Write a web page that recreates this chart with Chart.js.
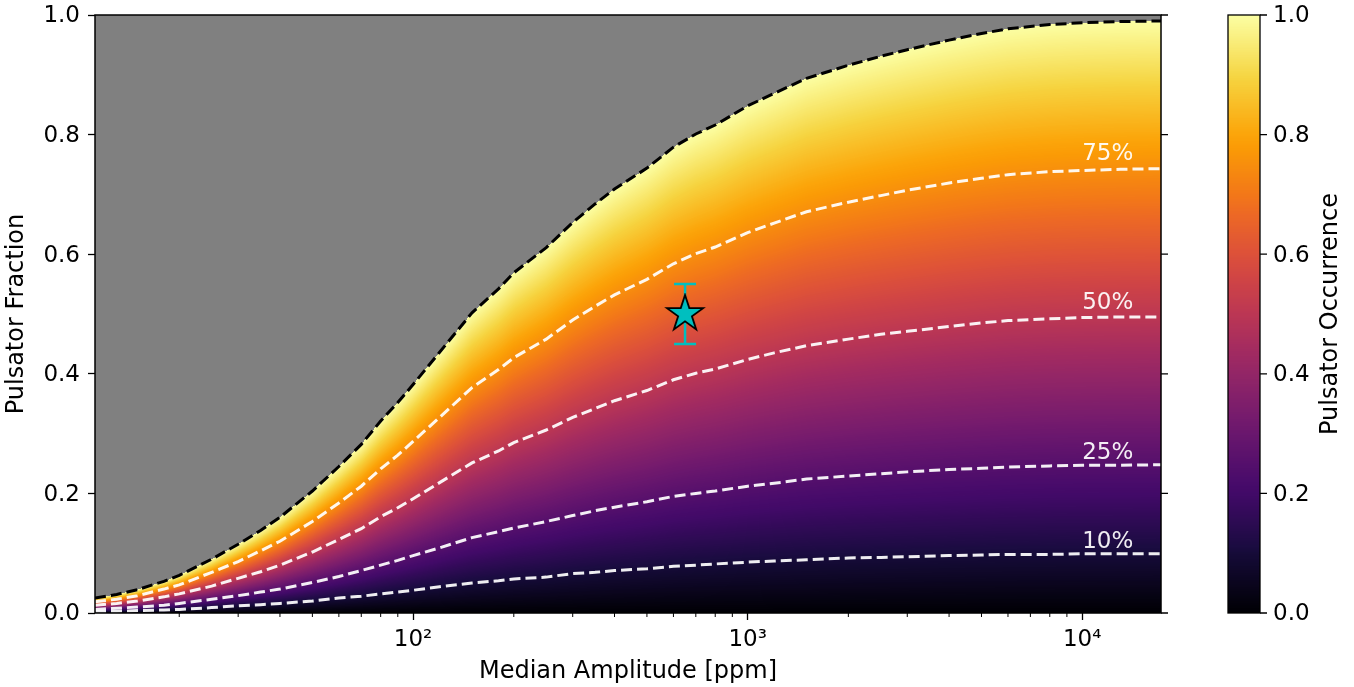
<!DOCTYPE html>
<html>
<head>
<meta charset="utf-8">
<title>Pulsator occurrence</title>
<style>
  html, body { margin: 0; padding: 0; background: #fff; }
  #occChart { display: block; }
</style>
</head>
<body>
<canvas id="occChart" width="1354" height="687"></canvas>
<script src="https://cdn.jsdelivr.net/npm/chart.js@4.4.1/dist/chart.umd.min.js"></script>
<script>
// amplitude grid (ppm) shared by all curves
const amplitude = [11.2, 13, 15, 18, 20, 25, 30, 35, 40, 50, 60, 70, 80, 90, 100, 120, 150, 180, 200, 250,
                   300, 350, 400, 500, 600, 700, 800, 1000, 1200, 1500, 2000, 2500, 3000, 4000, 5000, 6000,
                   8000, 10000, 13000, 17200];
// pulsator fraction where occurrence reaches 100%
const frac100 = [0.025, 0.031, 0.039, 0.053, 0.063, 0.090, 0.115, 0.138, 0.160, 0.204, 0.245, 0.282, 0.321, 0.352,
                 0.382, 0.436, 0.502, 0.542, 0.569, 0.611, 0.653, 0.684, 0.709, 0.744, 0.779, 0.801, 0.816, 0.848,
                 0.869, 0.894, 0.916, 0.931, 0.942, 0.958, 0.969, 0.977, 0.984, 0.987, 0.989, 0.990];
const frac75 = [0.019, 0.023, 0.029, 0.040, 0.047, 0.068, 0.086, 0.104, 0.120, 0.153, 0.184, 0.212, 0.241, 0.264,
                0.287, 0.327, 0.377, 0.407, 0.427, 0.458, 0.490, 0.513, 0.532, 0.558, 0.584, 0.601, 0.612, 0.636,
                0.652, 0.671, 0.687, 0.698, 0.707, 0.719, 0.727, 0.733, 0.738, 0.740, 0.742, 0.743];
const frac50 = [0.013, 0.016, 0.020, 0.027, 0.032, 0.045, 0.058, 0.069, 0.080, 0.102, 0.123, 0.141, 0.161, 0.176,
                0.191, 0.218, 0.251, 0.271, 0.285, 0.306, 0.327, 0.342, 0.355, 0.372, 0.390, 0.401, 0.408, 0.424,
                0.435, 0.447, 0.458, 0.466, 0.471, 0.479, 0.485, 0.489, 0.492, 0.494, 0.495, 0.495];
const frac25 = [0.006, 0.008, 0.010, 0.013, 0.016, 0.023, 0.029, 0.035, 0.040, 0.051, 0.061, 0.071, 0.080, 0.088,
                0.096, 0.109, 0.126, 0.136, 0.142, 0.153, 0.163, 0.171, 0.177, 0.186, 0.195, 0.200, 0.204, 0.212,
                0.217, 0.224, 0.229, 0.233, 0.236, 0.240, 0.242, 0.244, 0.246, 0.247, 0.247, 0.248];
const frac10 = [0.003, 0.003, 0.004, 0.005, 0.006, 0.009, 0.012, 0.014, 0.016, 0.020, 0.025, 0.028, 0.032, 0.035,
                0.038, 0.044, 0.050, 0.054, 0.057, 0.060, 0.066, 0.068, 0.071, 0.074, 0.078, 0.080, 0.082, 0.085,
                0.087, 0.089, 0.092, 0.093, 0.094, 0.096, 0.097, 0.098, 0.098, 0.099, 0.099, 0.099];

const levelNames = ['10%', '25%', '50%', '75%'];
const levelValues = [0.10, 0.25, 0.50, 0.75];
const levelLabelAmp = 10000;

// measured point with its error
const starAmp = [650];
const starFrac = [0.50];
const starErr = [0.05];

const xTickValues = [20, 30, 40, 50, 60, 70, 80, 90, 100, 200, 300, 400, 500, 600, 700, 800, 900,
                     1000, 2000, 3000, 4000, 5000, 6000, 7000, 8000, 9000, 10000];
const cbarTicks = [0.0, 0.2, 0.4, 0.6, 0.8, 1.0];

// inferno colormap
const inferno = [
  [0.000, '#000004'], [0.100, '#160b39'], [0.111, '#1b0c41'], [0.200, '#420a68'], [0.222, '#4a0c6b'],
  [0.300, '#6a176e'], [0.333, '#781c6d'], [0.400, '#932667'], [0.444, '#a52c60'], [0.500, '#bc3754'],
  [0.556, '#cf4446'], [0.600, '#dd513a'], [0.667, '#ed6925'], [0.700, '#f37819'], [0.778, '#fb9b06'],
  [0.800, '#fca50a'], [0.889, '#f7d13d'], [0.900, '#f6d746'], [1.000, '#fcffa4']
];

const FONT = "'DejaVu Sans', sans-serif";
const CYAN = '#00bfbf';
const LINE_WHITE = 'rgba(255,255,255,0.93)';

Chart.defaults.font.family = FONT;
Chart.defaults.font.size = 23;
Chart.defaults.color = '#000';

// vertical colour strip: top = 1, bottom = 0
const strip = document.createElement('canvas');
strip.width = 1;
strip.height = 512;
(function () {
  const g = strip.getContext('2d');
  const grad = g.createLinearGradient(0, strip.height, 0, 0);
  inferno.forEach(([t, c]) => grad.addColorStop(t, c));
  g.fillStyle = grad;
  g.fillRect(0, 0, 1, strip.height);
})();

function makeStar(outer, fill) {
  const s = Math.ceil(outer * 2 + 4);
  const c = document.createElement('canvas');
  c.width = c.height = s;
  const g = c.getContext('2d');
  const inner = outer * 0.382;
  g.beginPath();
  for (let k = 0; k < 10; k++) {
    const r = k % 2 ? inner : outer;
    const ang = -Math.PI / 2 + k * Math.PI / 5;
    g.lineTo(s / 2 + r * Math.cos(ang), s / 2 + r * Math.sin(ang));
  }
  g.closePath();
  g.fillStyle = fill;
  g.fill();
  g.lineWidth = 1.8;
  g.lineJoin = 'miter';
  g.strokeStyle = '#000';
  g.stroke();
  return c;
}

// 100% boundary at any amplitude, interpolated in log amplitude
function boundaryAt(amp) {
  const la = Math.log10(amp);
  if (amp <= amplitude[0]) return frac100[0];
  for (let i = 1; i < amplitude.length; i++) {
    if (amp <= amplitude[i]) {
      const l0 = Math.log10(amplitude[i - 1]), l1 = Math.log10(amplitude[i]);
      const t = (la - l0) / (l1 - l0);
      return frac100[i - 1] + t * (frac100[i] - frac100[i - 1]);
    }
  }
  return frac100[frac100.length - 1];
}

function isDecade(v) {
  const l = Math.log10(v);
  return Math.abs(l - Math.round(l)) < 1e-9;
}
const SUP = { 1: '\u00b9', 2: '\u00b2', 3: '\u00b3', 4: '\u2074' };

function series(ys) {
  return amplitude.map((a, i) => ({ x: a, y: ys[i] }));
}

function contour(ys, color) {
  return {
    type: 'line',
    data: series(ys),
    borderColor: color,
    borderWidth: 3,
    borderDash: [11, 5],
    pointRadius: 0,
    tension: 0,
    fill: false,
    order: 1
  };
}

const occupancyMap = {
  id: 'occupancyMap',
  beforeDatasetsDraw(chart) {
    const { ctx, chartArea: a, scales: { x, y } } = chart;
    ctx.save();
    ctx.beginPath();
    ctx.rect(a.left, a.top, a.right - a.left, a.bottom - a.top);
    ctx.clip();
    ctx.fillStyle = '#808080';
    ctx.fillRect(a.left, a.top, a.right - a.left, a.bottom - a.top);
    const y0 = y.getPixelForValue(0);
    for (let px = Math.floor(a.left); px < a.right; px++) {
      const top = y.getPixelForValue(boundaryAt(x.getValueForPixel(px + 0.5)));
      ctx.drawImage(strip, 0, 0, 1, strip.height, px, top, 1, y0 - top);
    }
    // error bar under the star marker
    ctx.strokeStyle = CYAN;
    ctx.lineWidth = 2.5;
    for (let i = 0; i < starAmp.length; i++) {
      const sx = x.getPixelForValue(starAmp[i]);
      const hi = y.getPixelForValue(starFrac[i] + starErr[i]);
      const lo = y.getPixelForValue(starFrac[i] - starErr[i]);
      ctx.beginPath();
      ctx.moveTo(sx, hi); ctx.lineTo(sx, lo);
      ctx.moveTo(sx - 11, hi); ctx.lineTo(sx + 11, hi);
      ctx.moveTo(sx - 11, lo); ctx.lineTo(sx + 11, lo);
      ctx.stroke();
    }
    ctx.restore();
  },
  afterDatasetsDraw(chart) {
    const { ctx, scales: { x, y } } = chart;
    ctx.save();
    ctx.font = '23px ' + FONT;
    ctx.fillStyle = LINE_WHITE;
    ctx.textAlign = 'left';
    ctx.textBaseline = 'alphabetic';
    levelNames.forEach((name, i) => {
      ctx.fillText(name, x.getPixelForValue(levelLabelAmp), y.getPixelForValue(levelValues[i] + 0.008));
    });
    ctx.restore();
  },
  afterDraw(chart) {
    const { ctx, chartArea: a, scales: { x, y } } = chart;
    ctx.save();
    // frame
    ctx.strokeStyle = '#000';
    ctx.lineWidth = 1.5;
    ctx.strokeRect(a.left, a.top, a.right - a.left, a.bottom - a.top);
    // right-hand ticks
    ctx.lineWidth = 1.3;
    ctx.beginPath();
    y.ticks.forEach(t => {
      const py = y.getPixelForValue(t.value);
      ctx.moveTo(a.right, py); ctx.lineTo(a.right + 7, py);
    });
    ctx.stroke();
    // minor ticks on the log axis
    ctx.lineWidth = 1;
    ctx.beginPath();
    x.ticks.forEach(t => {
      if (isDecade(t.value)) return;
      const px = x.getPixelForValue(t.value);
      ctx.moveTo(px, a.bottom); ctx.lineTo(px, a.bottom + 4);
    });
    ctx.stroke();

    // colorbar
    const cbL = 1228, cbW = 32, cbT = a.top, cbH = a.bottom - a.top;
    ctx.imageSmoothingEnabled = true;
    ctx.drawImage(strip, 0, 0, 1, strip.height, cbL, cbT, cbW, cbH);
    ctx.lineWidth = 1.3;
    ctx.strokeRect(cbL, cbT, cbW, cbH);
    ctx.font = '23px ' + FONT;
    ctx.fillStyle = '#000';
    ctx.textAlign = 'left';
    ctx.textBaseline = 'middle';
    ctx.beginPath();
    cbarTicks.forEach(v => {
      const py = cbT + cbH * (1 - v);
      ctx.moveTo(cbL + cbW, py); ctx.lineTo(cbL + cbW + 7, py);
      ctx.fillText(v.toFixed(1), cbL + cbW + 13, py + 1.5);
    });
    ctx.stroke();
    ctx.font = '24px ' + FONT;
    ctx.translate(1337, cbT + cbH / 2);
    ctx.rotate(-Math.PI / 2);
    ctx.textAlign = 'center';
    ctx.textBaseline = 'alphabetic';
    ctx.fillText('Pulsator Occurrence', 0, 0);
    ctx.restore();
  }
};

const chart = new Chart(document.getElementById('occChart'), {
  data: {
    datasets: [
      {
        type: 'scatter',
        data: starAmp.map((a, i) => ({ x: a, y: starFrac[i] })),
        pointStyle: makeStar(19, CYAN),
        order: 0
      },
      contour(frac100, '#000'),
      contour(frac75, LINE_WHITE),
      contour(frac50, LINE_WHITE),
      contour(frac25, LINE_WHITE),
      contour(frac10, LINE_WHITE)
    ]
  },
  options: {
    responsive: false,
    animation: false,
    events: [],
    layout: { padding: { top: 15, right: 193, bottom: 0, left: 0 } },
    plugins: {
      legend: { display: false },
      tooltip: { enabled: false }
    },
    scales: {
      x: {
        type: 'logarithmic',
        min: 11.2,
        max: 17200,
        afterBuildTicks: s => { s.ticks = xTickValues.map(v => ({ value: v })); },
        afterFit: s => { s.height = 74; s.paddingLeft = 0; s.paddingRight = 0; },
        border: { display: false },
        grid: {
          drawOnChartArea: false,
          drawTicks: true,
          tickLength: 7,
          tickWidth: 1.3,
          tickColor: c => (c.tick && isDecade(c.tick.value)) ? '#000' : 'rgba(0,0,0,0)'
        },
        ticks: {
          autoSkip: false,
          maxRotation: 0,
          minRotation: 0,
          padding: 6,
          callback: v => isDecade(v) ? '10' + SUP[Math.round(Math.log10(v))] : ''
        },
        title: {
          display: true,
          text: 'Median Amplitude [ppm]',
          font: { size: 24 },
          padding: { top: 0, bottom: 1 }
        }
      },
      y: {
        min: 0,
        max: 1,
        afterFit: s => { s.width = 95; s.paddingTop = 0; s.paddingBottom = 0; },
        border: { display: false },
        grid: {
          drawOnChartArea: false,
          drawTicks: true,
          tickLength: 7,
          tickWidth: 1.3,
          tickColor: '#000'
        },
        ticks: {
          stepSize: 0.2,
          padding: 8,
          labelOffset: 1.5,
          callback: v => v.toFixed(1)
        },
        title: {
          display: true,
          text: 'Pulsator Fraction',
          font: { size: 24 },
          padding: { top: 2, bottom: 0 }
        }
      }
    }
  },
  plugins: [occupancyMap]
});
</script>
</body>
</html>
